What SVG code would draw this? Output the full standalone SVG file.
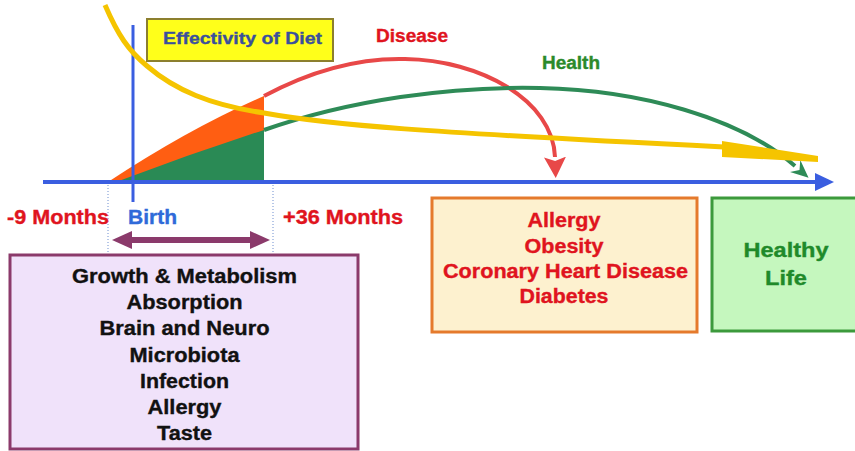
<svg xmlns="http://www.w3.org/2000/svg" width="855" height="451" viewBox="0 0 855 451">
  <defs>
    <style>
      .t { font-family: "Liberation Sans", Arial, sans-serif; font-weight: bold; stroke-width: 0.35; }
      .red { fill: #e0141e; stroke: #e0141e; }
      .blk { fill: #111111; stroke: #111111; }
      .box { stroke-width: 3; }
      .dot { stroke: #6f8fd0; stroke-width: 1; stroke-dasharray: 1 2; fill: none; }
    </style>
    <marker id="ahRed" markerUnits="userSpaceOnUse" viewBox="0 0 21 22" refX="0" refY="11" markerWidth="21" markerHeight="22" orient="auto">
      <path d="M0,0 L21,11 L0,22 L4,11 Z" fill="#e84848"/>
    </marker>
    <marker id="ahGreen" markerUnits="userSpaceOnUse" viewBox="0 0 18 16" refX="0" refY="8" markerWidth="18" markerHeight="16" orient="auto">
      <path d="M0,0 L18,8 L0,16 L6,8 Z" fill="#2e8b57"/>
    </marker>
    <marker id="ahPurple" markerUnits="userSpaceOnUse" viewBox="0 0 20 18" refX="2" refY="9" markerWidth="20" markerHeight="18" orient="auto-start-reverse">
      <path d="M0,0 L20,9 L0,18 Z" fill="#8b3a6b"/>
    </marker>
  </defs>
  <rect width="855" height="451" fill="#ffffff"/>

  <!-- areas under curves -->
  <g id="areas">
    <path d="M108,182 Q190,128 264,96 L264,182 Z" fill="#ff5e12"/>
    <path d="M116,182 Q190,154 264,130 L264,182 Z" fill="#2a8a55"/>
  </g>

  <!-- guide lines -->
  <g id="guides">
    <line class="dot" x1="108" y1="182" x2="108" y2="255"/>
    <line class="dot" x1="273" y1="182" x2="273" y2="255"/>
  </g>

  <g id="connectors">
    <path id="disease-curve" d="M264,96 C320,66 365,58 405,59 C480,60 553,100 555,157" fill="none" stroke="#e84848" stroke-width="4" marker-end="url(#ahRed)"/>
    <path id="health-curve" d="M264,130 C350,100 450,86 540,88 C640,90 740,118 795,166" fill="none" stroke="#2e8b57" stroke-width="4" marker-end="url(#ahGreen)"/>
    <line id="birth-line" x1="133" y1="25" x2="133" y2="202" stroke="#3a5ee0" stroke-width="3"/>
    <line id="time-axis" x1="43" y1="182" x2="816" y2="182" stroke="#3a5ee0" stroke-width="4"/>
    <polygon points="815,173 834,182 815,191" fill="#3a5ee0"/>
    <path id="diet-curve" d="M105,5 C118,35 128,50 147,66 C175,90 210,105 264,113 C330,125 420,132 724,147" fill="none" stroke="#f5c400" stroke-width="5"/>
    <polygon points="722,141 818,156 818,162 722,157" fill="#f5c400"/>
    <line id="span-arrow" x1="130" y1="240" x2="252" y2="240" stroke="#8b3a6b" stroke-width="6" marker-start="url(#ahPurple)" marker-end="url(#ahPurple)"/>
  </g>

  <g id="effectivity-label">
    <rect x="147" y="19" width="186" height="42" fill="#ffff1a" stroke="#8c7f2e" stroke-width="2"/>
    <text class="t" x="242.5" y="44" font-size="17" fill="#3a4f9c" stroke="#3a4f9c" text-anchor="middle" textLength="159" lengthAdjust="spacingAndGlyphs">Effectivity of Diet</text>
  </g>

  <g id="labels">
    <text class="t red" x="412" y="42" font-size="18" text-anchor="middle" textLength="72" lengthAdjust="spacingAndGlyphs">Disease</text>
    <text class="t" x="571" y="69" font-size="18" fill="#2b8a2b" stroke="#2b8a2b" text-anchor="middle" textLength="58" lengthAdjust="spacingAndGlyphs">Health</text>
    <text class="t red" x="58" y="224" font-size="19.5" text-anchor="middle" textLength="102" lengthAdjust="spacingAndGlyphs">-9 Months</text>
    <text class="t" x="152.5" y="224" font-size="19.5" fill="#2f6ad9" stroke="#2f6ad9" text-anchor="middle" textLength="49" lengthAdjust="spacingAndGlyphs">Birth</text>
    <text class="t red" x="343" y="224" font-size="19.5" text-anchor="middle" textLength="120" lengthAdjust="spacingAndGlyphs">+36 Months</text>
  </g>

  <g id="early-life-box">
    <rect class="box" x="10" y="255" width="348" height="194" fill="#f0e2fa" stroke="#8b3a6b"/>
    <g class="t blk" font-size="19.5" text-anchor="middle">
      <text x="184.5" y="283" textLength="225" lengthAdjust="spacingAndGlyphs">Growth &amp; Metabolism</text>
      <text x="184.5" y="309" textLength="116" lengthAdjust="spacingAndGlyphs">Absorption</text>
      <text x="184.5" y="335" textLength="170" lengthAdjust="spacingAndGlyphs">Brain and Neuro</text>
      <text x="184.5" y="362" textLength="110" lengthAdjust="spacingAndGlyphs">Microbiota</text>
      <text x="184.5" y="388" textLength="89" lengthAdjust="spacingAndGlyphs">Infection</text>
      <text x="184.5" y="414" textLength="74" lengthAdjust="spacingAndGlyphs">Allergy</text>
      <text x="184.5" y="440" textLength="55" lengthAdjust="spacingAndGlyphs">Taste</text>
    </g>
  </g>

  <g id="disease-box">
    <rect class="box" x="432" y="198" width="265" height="134" fill="#fdf1cf" stroke="#e57a2c"/>
    <g class="t red" font-size="19.5" text-anchor="middle">
      <text x="564" y="227" textLength="73" lengthAdjust="spacingAndGlyphs">Allergy</text>
      <text x="564" y="253" textLength="79" lengthAdjust="spacingAndGlyphs">Obesity</text>
      <text x="565.5" y="278" textLength="245" lengthAdjust="spacingAndGlyphs">Coronary Heart Disease</text>
      <text x="564" y="303" textLength="89" lengthAdjust="spacingAndGlyphs">Diabetes</text>
    </g>
  </g>

  <g id="healthy-life-box">
    <rect class="box" x="712" y="198" width="150" height="133" fill="#c5f7be" stroke="#3c9a3c"/>
    <g class="t" font-size="20" fill="#1f8a2a" stroke="#1f8a2a" text-anchor="middle">
      <text x="786" y="257" textLength="85" lengthAdjust="spacingAndGlyphs">Healthy</text>
      <text x="786" y="285" textLength="42" lengthAdjust="spacingAndGlyphs">Life</text>
    </g>
  </g>
</svg>
